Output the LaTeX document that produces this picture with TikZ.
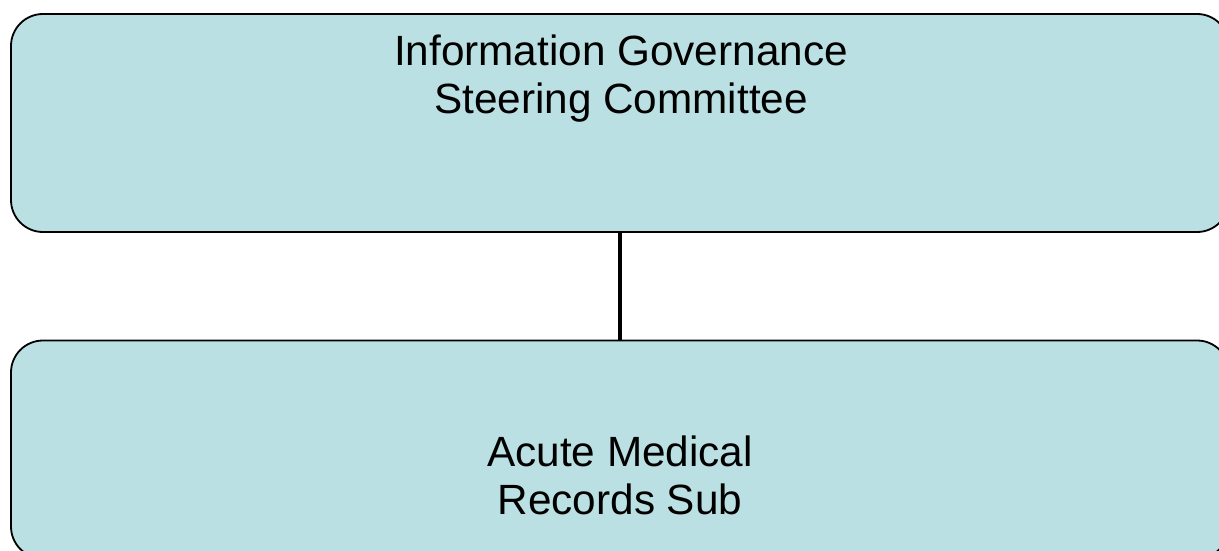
\documentclass[tikz,border=0pt]{standalone}
\usepackage{fontspec}
\setmainfont{Liberation Sans}
\definecolor{unitfill}{HTML}{BBE0E3}

\begin{document}
\begin{tikzpicture}[x=1pt,y=-1pt,
  unitbox/.style={draw=black, line width=1.8pt, fill=unitfill, rounded corners=32pt,
    minimum width=1218pt, minimum height=218pt, inner sep=0pt},
  unittext/.style={align=center, inner sep=0pt, anchor=north,
    font=\fontsize{42.3pt}{48pt}\selectfont}]

\useasboundingbox (0,0) rectangle (1219,551);

\node [unitbox] (steer) at (620,123) {};
\node [unitbox] (records) at (620,449.5) {};

\draw [line width=4.5pt] (steer.south) -- (records.north);

\node [unittext] (steertext) at (621,34.5) {Information Governance\\Steering Committee};
\node [unittext] (recordstext) at (620,436) {Acute Medical\\Records Sub};

\end{tikzpicture}
\end{document}
